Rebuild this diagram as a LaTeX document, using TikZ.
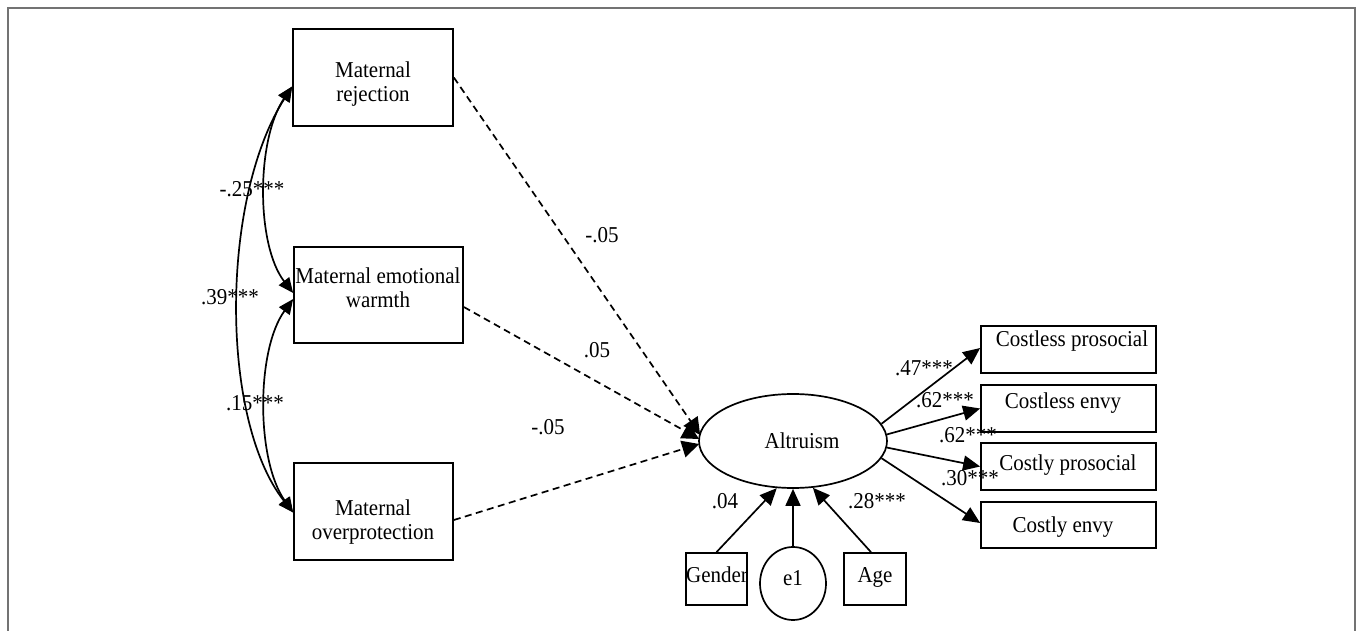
\documentclass[tikz,border=0pt]{standalone}
\usepackage{fontspec}
\setmainfont{Liberation Serif}[FakeStretch=0.925]
\usetikzlibrary{arrows.meta,shapes.geometric,calc}

\begin{document}
\begin{tikzpicture}[x=1pt,y=-1pt,
  font=\fontsize{22.7}{24}\selectfont,
  line width=1.7pt,
  box/.style={draw, rectangle, inner sep=0pt},
  latent/.style={draw, ellipse, inner sep=0pt},
  txt/.style={anchor=base, inner sep=0pt, align=center},
  lbl/.style={anchor=base, inner sep=0pt},
  reg/.style={-{Triangle[length=17pt,width=15pt]}},
  dreg/.style={-{Triangle[length=17pt,width=17pt]}, dash pattern=on 7pt off 4.5pt},
  cov/.style={{Triangle[length=15pt,width=13pt]}-{Triangle[length=15pt,width=13pt]}},
  frame/.style={draw=black!55, line width=2pt}
]
\useasboundingbox (0,0) rectangle (1358,631);

% outer frame, open at the bottom
\draw[frame] (8,631) -- (8,8) -- (1355,8) -- (1355,631);

% parenting predictors
\node[box, minimum width=160pt, minimum height=97pt] (rej)  at (373,77.5) {};
\node[box, minimum width=169pt, minimum height=96pt] (warm) at (378.5,295) {};
\node[box, minimum width=159pt, minimum height=97pt] (over) at (373.5,511.5) {};
\node[txt] (rejt)  at (373,102) {Maternal\\rejection};
\node[txt] (warmt) at (378,307) {Maternal emotional\\warmth};
\node[txt] (overt) at (373,539) {Maternal\\overprotection};

% latent outcome and its residual
\node[latent, minimum width=188pt, minimum height=94pt] (alt) at (793,441) {};
\node[lbl] (altt) at (802,448) {Altruism};
\node[latent, minimum width=66pt, minimum height=73pt] (e1) at (793,583.5) {};
\node[lbl] (e1t) at (793,585) {e1};

% covariates
\node[box, minimum width=61pt, minimum height=52pt] (gen) at (716.5,579) {};
\node[box, minimum width=62pt, minimum height=52pt] (age) at (875,579) {};
\node[lbl] (gent) at (717,582) {Gender};
\node[lbl] (aget) at (875,582) {Age};

% indicators
\node[box, minimum width=175pt, minimum height=47pt] (cp) at (1068.5,349.5) {};
\node[box, minimum width=175pt, minimum height=47pt] (ce) at (1068.5,408.5) {};
\node[box, minimum width=175pt, minimum height=47pt] (kp) at (1068.5,466.5) {};
\node[box, minimum width=175pt, minimum height=46pt] (ke) at (1068.5,525) {};
\node[lbl] (cpt) at (1072,346) {Costless prosocial};
\node[lbl] (cet) at (1063,408) {Costless envy};
\node[lbl] (kpt) at (1068,470) {Costly prosocial};
\node[lbl] (ket) at (1063,532) {Costly envy};

% covariances among predictors
\draw[cov] ($(rej.west)+(0,9)$) .. controls (256,140) and (256,245) .. ($(warm.west)+(0,-2)$);
\draw[cov] ($(rej.west)+(0,9)$) .. controls (220,200) and (220,420) .. ($(over.west)+(0,1)$);
\draw[cov] ($(warm.west)+(0,4)$) .. controls (256,350) and (256,460) .. ($(over.west)+(0,1)$);
\node[lbl] (c1) at (252,197) {-.25***};
\node[lbl] (c2) at (230,305) {.39***};
\node[lbl] (c3) at (255,410) {.15***};

% paths to altruism
\draw[dreg] (rej.east) -- ($(alt.west)+(2,-6)$);
\draw[dreg] ($(warm.east)+(0,12)$) -- ($(alt.west)+(1,-2)$);
\draw[dreg] ($(over.east)+(0,8.5)$) -- ($(alt.west)+(1,3)$);
\node[lbl] (p1) at (602,243) {-.05};
\node[lbl] (p2) at (597,357) {.05};
\node[lbl] (p3) at (548,434) {-.05};

% covariate and residual paths
\draw[reg] (gen.north) -- (alt.251);
\draw[reg] (e1.north) -- (alt.south);
\draw[reg] ($(age.north)+(-4,0)$) -- (alt.293.5);
\node[lbl] (g1) at (725,508) {.04};
\node[lbl] (a1) at (877,508) {.28***};

% loadings
\draw[reg] (alt.11)  -- ($(cp.west)+(0,-1.5)$);
\draw[reg] (alt.4)   -- (ce.west);
\draw[reg] (alt.-4)  -- (kp.west);
\draw[reg] (alt.-11) -- ($(ke.west)+(0,-2)$);
\node[lbl] (l1) at (924,375) {.47***};
\node[lbl] (l2) at (945,407) {.62***};
\node[lbl] (l3) at (968,442) {.62***};
\node[lbl] (l4) at (970,485) {.30***};
\end{tikzpicture}
\end{document}
